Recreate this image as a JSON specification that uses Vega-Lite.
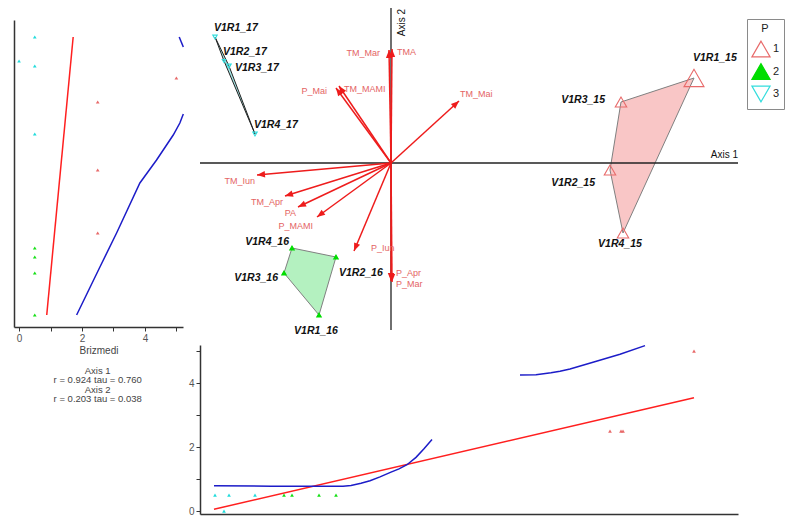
{
  "$schema": "https://vega.github.io/schema/vega-lite/v6.json",
  "width": 790,
  "height": 526,
  "padding": 0,
  "autosize": {"type": "none"},
  "background": "white",
  "config": {
    "font": "Liberation Sans",
    "view": {"stroke": null},
    "axis": {"grid": false, "domainColor": "#333333", "domainWidth": 1.5, "tickColor": "#333333", "tickWidth": 1, "labelColor": "#555555", "labelFontSize": 10, "titleFontSize": 10, "titleFontWeight": "normal", "titleColor": "#444444"},
    "legend": {"strokeColor": "#8a8a8a", "fillColor": "#ffffff", "padding": 4, "symbolSize": 330, "symbolStrokeWidth": 1.2, "rowPadding": 0.5, "labelFontSize": 11, "labelColor": "#222222", "titleFontSize": 11, "titleFontWeight": "normal", "titleColor": "#222222", "titleAnchor": "middle", "titleAlign": "center", "titlePadding": 5, "labelOffset": 2}
  },
  "datasets": {
    "sites": [
      {"site": "V1R1_15", "P": 1, "ax1": 3.03, "ax2": 0.85, "briz": 5, "h": 1},
      {"site": "V1R3_15", "P": 1, "ax1": 2.30, "ax2": 0.61, "briz": 2.5, "h": 2},
      {"site": "V1R2_15", "P": 1, "ax1": 2.19, "ax2": -0.07, "briz": 2.5, "h": 3},
      {"site": "V1R4_15", "P": 1, "ax1": 2.32, "ax2": -0.70, "briz": 2.5, "h": 4},
      {"site": "V1R4_16", "P": 2, "ax1": -0.99, "ax2": -0.85, "briz": 0.5, "h": 1},
      {"site": "V1R2_16", "P": 2, "ax1": -0.55, "ax2": -0.94, "briz": 0.5, "h": 2},
      {"site": "V1R1_16", "P": 2, "ax1": -0.72, "ax2": -1.52, "briz": 0.5, "h": 3},
      {"site": "V1R3_16", "P": 2, "ax1": -1.07, "ax2": -1.10, "briz": 0.5, "h": 4},
      {"site": "V1R1_17", "P": 3, "ax1": -1.76, "ax2": 1.26, "briz": 0.5, "h": 1},
      {"site": "V1R2_17", "P": 3, "ax1": -1.67, "ax2": 1.02, "briz": 0, "h": 2},
      {"site": "V1R4_17", "P": 3, "ax1": -1.36, "ax2": 0.29, "briz": 0.5, "h": 3},
      {"site": "V1R3_17", "P": 3, "ax1": -1.62, "ax2": 0.97, "briz": 0.5, "h": 4}
    ],
    "arrows": [
      {"var": "TMA", "ax1": 0.01, "ax2": 1.14},
      {"var": "TM_Mar", "ax1": -0.02, "ax2": 1.13},
      {"var": "P_Mai", "ax1": -0.55, "ax2": 0.75},
      {"var": "TM_MAMI", "ax1": -0.52, "ax2": 0.77},
      {"var": "TM_Mai", "ax1": 0.68, "ax2": 0.62},
      {"var": "TM_Iun", "ax1": -1.34, "ax2": -0.12},
      {"var": "TM_Apr", "ax1": -1.06, "ax2": -0.33},
      {"var": "PA", "ax1": -0.93, "ax2": -0.44},
      {"var": "P_MAMI", "ax1": -0.74, "ax2": -0.54},
      {"var": "P_Iun", "ax1": -0.37, "ax2": -0.88},
      {"var": "P_Apr", "ax1": 0.01, "ax2": -1.19},
      {"var": "P_Mar", "ax1": 0.0, "ax2": -1.18}
    ],
    "ordAxes": [
      {"name": "Axis 1", "ax1": -1.91, "ax2": 0, "ax1end": 3.47, "ax2end": 0},
      {"name": "Axis 2", "ax1": 0, "ax2": -1.67, "ax1end": 0, "ax2end": 1.55}
    ],
    "leftCurves": [
      {"piece": "r", "col": "red", "x": 0.88, "y": -1.52},
      {"piece": "r", "col": "red", "x": 1.72, "y": 1.26},
      {"piece": "b1", "col": "blue", "x": 1.83, "y": -1.52},
      {"piece": "b1", "col": "blue", "x": 2.57, "y": -1.04},
      {"piece": "b1", "col": "blue", "x": 3.10, "y": -0.70},
      {"piece": "b1", "col": "blue", "x": 3.84, "y": -0.20},
      {"piece": "b1", "col": "blue", "x": 4.37, "y": 0.03},
      {"piece": "b1", "col": "blue", "x": 4.90, "y": 0.28},
      {"piece": "b1", "col": "blue", "x": 5.11, "y": 0.40},
      {"piece": "b1", "col": "blue", "x": 5.22, "y": 0.49},
      {"piece": "b2", "col": "blue", "x": 5.09, "y": 1.26},
      {"piece": "b2", "col": "blue", "x": 5.22, "y": 1.16}
    ],
    "bottomCurves": [
      {"piece": "r", "col": "red", "x": -1.77, "y": 0.06},
      {"piece": "r", "col": "red", "x": 3.03, "y": 3.54},
      {"piece": "b1", "col": "blue", "x": -1.77, "y": 0.79},
      {"piece": "b1", "col": "blue", "x": -1.2, "y": 0.78},
      {"piece": "b1", "col": "blue", "x": -0.48, "y": 0.78},
      {"piece": "b1", "col": "blue", "x": -0.4, "y": 0.80},
      {"piece": "b1", "col": "blue", "x": -0.3, "y": 0.87},
      {"piece": "b1", "col": "blue", "x": -0.21, "y": 0.95},
      {"piece": "b1", "col": "blue", "x": -0.11, "y": 1.07},
      {"piece": "b1", "col": "blue", "x": 0.0, "y": 1.22},
      {"piece": "b1", "col": "blue", "x": 0.08, "y": 1.32},
      {"piece": "b1", "col": "blue", "x": 0.16, "y": 1.45},
      {"piece": "b1", "col": "blue", "x": 0.25, "y": 1.68},
      {"piece": "b1", "col": "blue", "x": 0.33, "y": 1.95},
      {"piece": "b1", "col": "blue", "x": 0.41, "y": 2.24},
      {"piece": "b2", "col": "blue", "x": 1.29, "y": 4.25},
      {"piece": "b2", "col": "blue", "x": 1.45, "y": 4.26},
      {"piece": "b2", "col": "blue", "x": 1.6, "y": 4.32},
      {"piece": "b2", "col": "blue", "x": 1.69, "y": 4.37},
      {"piece": "b2", "col": "blue", "x": 1.79, "y": 4.44},
      {"piece": "b2", "col": "blue", "x": 2.02, "y": 4.65},
      {"piece": "b2", "col": "blue", "x": 2.29, "y": 4.9},
      {"piece": "b2", "col": "blue", "x": 2.54, "y": 5.17}
    ]
  },
  "layer": [
    {
      "data": {"name": "sites"},
      "encoding": {
        "x": {"field": "ax1", "type": "quantitative", "scale": {"domain": [-1.91, 3.47], "range": [200, 738], "nice": false, "zero": false}, "axis": null},
        "y": {"field": "ax2", "type": "quantitative", "scale": {"domain": [-1.67, 1.55], "range": [330, 8], "nice": false, "zero": false}, "axis": null}
      },
      "layer": [
        {"transform": [{"filter": "datum.P == 1"}], "mark": {"type": "line", "interpolate": "linear-closed", "fill": "#f9c6c6", "stroke": "#808080", "strokeWidth": 1}, "encoding": {"order": {"field": "h", "type": "quantitative"}}},
        {"transform": [{"filter": "datum.P == 2"}], "mark": {"type": "line", "interpolate": "linear-closed", "fill": "#b4f1c0", "stroke": "#808080", "strokeWidth": 1}, "encoding": {"order": {"field": "h", "type": "quantitative"}}},
        {"transform": [{"filter": "datum.P == 3"}], "mark": {"type": "line", "interpolate": "linear-closed", "fill": "#a6e6e6", "stroke": "#222222", "strokeWidth": 1}, "encoding": {"order": {"field": "h", "type": "quantitative"}}},
        {"data": {"name": "ordAxes"}, "mark": {"type": "rule", "color": "#222222", "strokeWidth": 1.3}, "encoding": {"x2": {"field": "ax1end"}, "y2": {"field": "ax2end"}}},
        {"data": {"name": "ordAxes"}, "transform": [{"filter": "datum.name == 'Axis 1'"}], "mark": {"type": "text", "align": "right", "baseline": "middle", "dy": -8, "fontSize": 10, "color": "#111111"}, "encoding": {"x": {"field": "ax1end", "type": "quantitative", "axis": null}, "text": {"field": "name"}}},
        {"data": {"name": "ordAxes"}, "transform": [{"filter": "datum.name == 'Axis 2'"}], "mark": {"type": "text", "angle": 270, "align": "right", "baseline": "middle", "dx": -1, "dy": 11, "fontSize": 10, "color": "#111111"}, "encoding": {"y": {"field": "ax2end", "type": "quantitative", "axis": null}, "text": {"field": "name"}}},
        {"data": {"name": "arrows"}, "mark": {"type": "rule", "color": "#ee1c1c", "strokeWidth": 1.5}, "encoding": {"x": {"datum": 0, "type": "quantitative", "axis": null}, "y": {"datum": 0, "type": "quantitative", "axis": null}, "x2": {"field": "ax1"}, "y2": {"field": "ax2"}}},
        {"data": {"name": "arrows"}, "transform": [{"calculate": "atan2(datum.ax1, datum.ax2) * 180 / PI", "as": "ang"}], "mark": {"type": "point", "shape": "M0,0L-0.8,2L0.8,2Z", "filled": true, "color": "#ee1c1c", "size": 64, "opacity": 1}, "encoding": {"angle": {"field": "ang", "type": "quantitative", "scale": null}}},
        {"data": {"name": "arrows"}, "transform": [{"filter": {"field": "var", "oneOf": ["TM_Iun", "TM_Apr", "PA"]}}], "mark": {"type": "text", "align": "right", "baseline": "middle", "dx": -2, "dy": 6, "fontSize": 9, "color": "#e46464"}, "encoding": {"text": {"field": "var"}}},
        {"data": {"name": "arrows"}, "transform": [{"filter": {"field": "var", "oneOf": ["P_MAMI"]}}], "mark": {"type": "text", "align": "right", "baseline": "middle", "dx": -4, "dy": 9, "fontSize": 9, "color": "#e46464"}, "encoding": {"text": {"field": "var"}}},
        {"data": {"name": "arrows"}, "transform": [{"filter": {"field": "var", "oneOf": ["TM_Mar", "P_Mai"]}}], "mark": {"type": "text", "align": "right", "baseline": "middle", "dx": -9, "dy": 3, "fontSize": 9, "color": "#e46464"}, "encoding": {"text": {"field": "var"}}},
        {"data": {"name": "arrows"}, "transform": [{"filter": {"field": "var", "oneOf": ["TMA", "TM_MAMI", "P_Mar"]}}], "mark": {"type": "text", "align": "left", "baseline": "middle", "dx": 5, "dy": 3, "fontSize": 9, "color": "#e46464"}, "encoding": {"text": {"field": "var"}}},
        {"data": {"name": "arrows"}, "transform": [{"filter": {"field": "var", "oneOf": ["TM_Mai"]}}], "mark": {"type": "text", "align": "left", "baseline": "middle", "dx": 1, "dy": -7, "fontSize": 9, "color": "#e46464"}, "encoding": {"text": {"field": "var"}}},
        {"data": {"name": "arrows"}, "transform": [{"filter": {"field": "var", "oneOf": ["P_Iun"]}}], "mark": {"type": "text", "align": "left", "baseline": "middle", "dx": 17, "dy": -3, "fontSize": 9, "color": "#e46464"}, "encoding": {"text": {"field": "var"}}},
        {"data": {"name": "arrows"}, "transform": [{"filter": {"field": "var", "oneOf": ["P_Apr"]}}], "mark": {"type": "text", "align": "left", "baseline": "middle", "dx": 4, "dy": -9, "fontSize": 9, "color": "#e46464"}, "encoding": {"text": {"field": "var"}}},
        {
          "mark": {"type": "point", "strokeWidth": 1.1, "opacity": 1},
          "encoding": {
            "shape": {"field": "P", "type": "nominal", "title": "P", "scale": {"domain": [1, 2, 3], "range": ["triangle-up", "triangle-up", "triangle-down"]}, "legend": {"orient": "none", "legendX": 747, "legendY": 19}},
            "stroke": {"field": "P", "type": "nominal", "title": "P", "scale": {"domain": [1, 2, 3], "range": ["#e86a6a", "#00dd00", "#33dddd"]}, "legend": {"orient": "none", "legendX": 747, "legendY": 19}},
            "fill": {"field": "P", "type": "nominal", "title": "P", "scale": {"domain": [1, 2, 3], "range": ["transparent", "#00dd00", "transparent"]}, "legend": {"orient": "none", "legendX": 747, "legendY": 19}},
            "size": {"field": "briz", "type": "quantitative", "scale": {"type": "pow", "exponent": 1.7, "domain": [0, 5], "range": [12, 400]}, "legend": null}
          }
        },
        {"transform": [{"filter": {"field": "site", "oneOf": ["V1R1_17", "V1R2_17", "V1R4_17"]}}], "mark": {"type": "text", "align": "left", "baseline": "middle", "dx": -1, "dy": -9, "fontSize": 10.5, "fontWeight": "bold", "fontStyle": "italic", "color": "#111111"}, "encoding": {"text": {"field": "site"}}},
        {"transform": [{"filter": {"field": "site", "oneOf": ["V1R3_17"]}}], "mark": {"type": "text", "align": "left", "baseline": "middle", "dx": 6, "dy": 2, "fontSize": 10.5, "fontWeight": "bold", "fontStyle": "italic", "color": "#111111"}, "encoding": {"text": {"field": "site"}}},
        {"transform": [{"filter": {"field": "site", "oneOf": ["V1R4_16"]}}], "mark": {"type": "text", "align": "right", "baseline": "middle", "dx": -3, "dy": -6, "fontSize": 10.5, "fontWeight": "bold", "fontStyle": "italic", "color": "#111111"}, "encoding": {"text": {"field": "site"}}},
        {"transform": [{"filter": {"field": "site", "oneOf": ["V1R2_16"]}}], "mark": {"type": "text", "align": "left", "baseline": "middle", "dx": 3, "dy": 16, "fontSize": 10.5, "fontWeight": "bold", "fontStyle": "italic", "color": "#111111"}, "encoding": {"text": {"field": "site"}}},
        {"transform": [{"filter": {"field": "site", "oneOf": ["V1R3_16"]}}], "mark": {"type": "text", "align": "right", "baseline": "middle", "dx": -6, "dy": 5, "fontSize": 10.5, "fontWeight": "bold", "fontStyle": "italic", "color": "#111111"}, "encoding": {"text": {"field": "site"}}},
        {"transform": [{"filter": {"field": "site", "oneOf": ["V1R1_16"]}}], "mark": {"type": "text", "align": "center", "baseline": "middle", "dx": -3, "dy": 16, "fontSize": 10.5, "fontWeight": "bold", "fontStyle": "italic", "color": "#111111"}, "encoding": {"text": {"field": "site"}}},
        {"transform": [{"filter": {"field": "site", "oneOf": ["V1R1_15"]}}], "mark": {"type": "text", "align": "left", "baseline": "middle", "dx": -1, "dy": -20, "fontSize": 10.5, "fontWeight": "bold", "fontStyle": "italic", "color": "#111111"}, "encoding": {"text": {"field": "site"}}},
        {"transform": [{"filter": {"field": "site", "oneOf": ["V1R3_15"]}}], "mark": {"type": "text", "align": "right", "baseline": "middle", "dx": -16, "dy": -2, "fontSize": 10.5, "fontWeight": "bold", "fontStyle": "italic", "color": "#111111"}, "encoding": {"text": {"field": "site"}}},
        {"transform": [{"filter": {"field": "site", "oneOf": ["V1R2_15"]}}], "mark": {"type": "text", "align": "right", "baseline": "middle", "dx": -15, "dy": 13, "fontSize": 10.5, "fontWeight": "bold", "fontStyle": "italic", "color": "#111111"}, "encoding": {"text": {"field": "site"}}},
        {"transform": [{"filter": {"field": "site", "oneOf": ["V1R4_15"]}}], "mark": {"type": "text", "align": "center", "baseline": "middle", "dx": -3, "dy": 11, "fontSize": 10.5, "fontWeight": "bold", "fontStyle": "italic", "color": "#111111"}, "encoding": {"text": {"field": "site"}}}
      ]
    },
    {
      "layer": [
        {
          "data": {"name": "leftCurves"},
          "transform": [{"filter": "datum.col == 'red'"}],
          "mark": {"type": "line", "color": "#ff1f1f", "strokeWidth": 1.5},
          "encoding": {
            "x": {"field": "x", "type": "quantitative", "scale": {"domain": [-0.16, 5.21], "range": [14, 183], "nice": false, "zero": false}, "axis": {"orient": "bottom", "offset": -199, "values": [0, 1, 2, 3, 4, 5], "format": "d", "labelExpr": "datum.value % 2 == 0 ? datum.label : ''", "tickSize": 4, "labelPadding": 2, "title": "Brizmedi", "titlePadding": 2, "labelFlush": false}},
            "y": {"field": "y", "type": "quantitative", "scale": {"domain": [-1.64, 1.43], "range": [327, 20], "nice": false, "zero": false}, "axis": {"orient": "left", "offset": -14, "ticks": false, "labels": false, "title": null}},
            "detail": {"field": "piece"}
          }
        },
        {
          "data": {"name": "leftCurves"},
          "transform": [{"filter": "datum.col == 'blue'"}],
          "mark": {"type": "line", "color": "#1c1cc8", "strokeWidth": 1.5},
          "encoding": {"x": {"field": "x", "type": "quantitative"}, "y": {"field": "y", "type": "quantitative"}, "detail": {"field": "piece"}}
        },
        {
          "data": {"name": "sites"},
          "mark": {"type": "point", "shape": "triangle-up", "filled": true, "size": 14, "opacity": 1},
          "encoding": {"x": {"field": "briz", "type": "quantitative"}, "y": {"field": "ax2", "type": "quantitative"}, "color": {"field": "P", "type": "nominal", "scale": {"domain": [1, 2, 3], "range": ["#e86a6a", "#16e016", "#22dcdc"]}, "legend": null}}
        },
        {
          "data": {"values": [{"lx": 2.5, "ly": -2.025}]},
          "mark": {"type": "text", "text": ["Axis 1", "r =  0.924 tau =  0.760", "Axis 2", "r =  0.203 tau =  0.038"], "align": "center", "baseline": "top", "fontSize": 9.5, "lineHeight": 9.6, "color": "#444444"},
          "encoding": {"x": {"field": "lx", "type": "quantitative"}, "y": {"field": "ly", "type": "quantitative"}}
        }
      ]
    },
    {
      "layer": [
        {
          "data": {"name": "bottomCurves"},
          "transform": [{"filter": "datum.col == 'red'"}],
          "mark": {"type": "line", "color": "#ff1f1f", "strokeWidth": 1.5},
          "encoding": {
            "x": {"field": "x", "type": "quantitative", "scale": {"domain": [-1.91, 3.47], "range": [200, 738], "nice": false, "zero": false}, "axis": {"orient": "bottom", "offset": -12, "ticks": false, "labels": false, "title": null}},
            "y": {"field": "y", "type": "quantitative", "scale": {"domain": [-0.09, 5.19], "range": [514, 345], "nice": false, "zero": false}, "axis": {"orient": "left", "offset": -200, "values": [0, 1, 2, 3, 4, 5], "format": "d", "labelExpr": "datum.value % 2 == 0 ? datum.label : ''", "tickSize": 4, "labelPadding": 2, "title": null}},
            "detail": {"field": "piece"}
          }
        },
        {
          "data": {"name": "bottomCurves"},
          "transform": [{"filter": "datum.col == 'blue'"}],
          "mark": {"type": "line", "color": "#1c1cc8", "strokeWidth": 1.5},
          "encoding": {"x": {"field": "x", "type": "quantitative"}, "y": {"field": "y", "type": "quantitative"}, "detail": {"field": "piece"}}
        },
        {
          "data": {"name": "sites"},
          "mark": {"type": "point", "shape": "triangle-up", "filled": true, "size": 14, "opacity": 1},
          "encoding": {"x": {"field": "ax1", "type": "quantitative"}, "y": {"field": "briz", "type": "quantitative"}, "color": {"field": "P", "type": "nominal", "scale": {"domain": [1, 2, 3], "range": ["#e86a6a", "#16e016", "#22dcdc"]}, "legend": null}}
        }
      ]
    }
  ],
  "resolve": {"scale": {"x": "independent", "y": "independent"}, "axis": {"x": "independent", "y": "independent"}}
}
